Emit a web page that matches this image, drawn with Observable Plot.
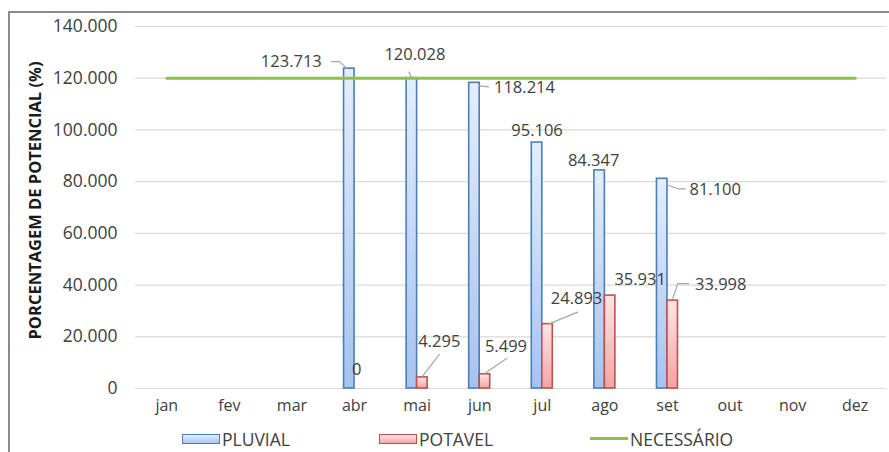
<!DOCTYPE html>
<html>
<head>
<meta charset="utf-8">
<script src="https://cdn.jsdelivr.net/npm/d3@7"></script>
<script src="https://cdn.jsdelivr.net/npm/@observablehq/plot@0.6"></script>
<style>
  html, body { margin: 0; padding: 0; background: #fff; overflow: hidden; }
  body { width: 889px; height: 452px; position: relative; font-family: "Open Sans", sans-serif; }
  #frame { position: absolute; left: 8px; top: 11px; width: 1000px; height: 600px;
           border-left: 2px solid #8a8a8a; border-top: 2px solid #8a8a8a; pointer-events: none; }
  #chart { position: absolute; left: 0; top: 0; }
  #legend { position: absolute; left: 0; top: 425px; width: 889px; height: 27px; color: #404040; font-size: 17.5px; }
  .item { position: absolute; top: 0; height: 27px; display: flex; align-items: center; }
  .swatch { width: 38px; height: 10px; margin-right: 2px; box-sizing: border-box; }
  .sw-blue { border: 1.5px solid #4a7ebb; background: linear-gradient(#e4eefc, #a9c5f0); }
  .sw-red { border: 1.5px solid #c0504d; background: linear-gradient(#fde6e6, #f4a5a5); }
  .sw-green { width: 38px; height: 2.5px; background: #8fbf4f; margin-right: 2px; }
</style>
</head>
<body>
<div id="chart"></div>
<div id="legend">
  <div class="item" style="left:182px"><div class="swatch sw-blue"></div>PLUVIAL</div>
  <div class="item" style="left:379px"><div class="swatch sw-red"></div>POTAVEL</div>
  <div class="item" style="left:590px"><div class="sw-green"></div>NECESSÁRIO</div>
</div>
<div id="frame"></div>
<script>
// Monthly potential percentages
const months = ["jan", "fev", "mar", "abr", "mai", "jun", "jul", "ago", "set", "out", "nov", "dez"];
const pluvial = [null, null, null, 123.713, 120.028, 118.214, 95.106, 84.347, 81.100, null, null, null];
const potavel = [null, null, null, 0, 4.295, 5.499, 24.893, 35.931, 33.998, null, null, null];
const necessario = [120, 120, 120, 120, 120, 120, 120, 120, 120, 120, 120, 120];
const yTicks = [0, 20, 40, 60, 80, 100, 120, 140];
const yTitle = "PORCENTAGEM DE POTENCIAL (%)";

// Label placement: pixel offset of each value label from the top of its bar
const pluvialLabelOffset = [null, null, null, [-58, -7], [3, -23], [50, 5], [0, -12], [-6, -10], [53, 11], null, null, null];
const potavelLabelOffset = [null, null, null, [-3, -19], [17, -36], [21, -28], [29, -25], [30, -16], [48, -16], null, null, null];
// Leader lines (pixel offsets from bar top)
const pluvialLeaders = [null, null, null, [[-2, 0], [-10, -7], [-18, -7]], [[0, 0], [-3, -6]], [[5, 3], [14, 4]], null, null, [[5, 6], [16, 10], [23, 10]], null, null, null];
const potavelLeaders = [null, null, null, null, [[0, -1], [17, -23]], [[0, -1], [22, -16]], [[1, 0], [30, -12]], null, [[0, -2], [5, -17], [16, -17]], null, null, null];

const W = 889, H = 425, mL = 135, mR = 3, mT = 26, mB = 37;
const xPx = (W - mL - mR) / 12;     // pixels per month
const yPx = (H - mT - mB) / 140;    // pixels per percentage point
const bw = 10.5 / xPx;              // bar width in month units

const fmt = v => v === 0 ? "0" : v.toFixed(3);

const series = [
  {key: "pluvial", values: pluvial, side: -1, fill: "url(#gradPluvial)", stroke: "#4a7ebb", offsets: pluvialLabelOffset, leaders: pluvialLeaders},
  {key: "potavel", values: potavel, side: 1, fill: "url(#gradPotavel)", stroke: "#c0504d", offsets: potavelLabelOffset, leaders: potavelLeaders}
];

const barCenter = (i, side) => i + side * bw / 2;

const bars = [], labels = [], leaderPts = [];
for (const s of series) {
  s.values.forEach((v, i) => {
    if (v == null) return;
    const cx = barCenter(i, s.side);
    if (v > 0) bars.push({key: s.key, x1: s.side < 0 ? i - bw : i, x2: s.side < 0 ? i : i + bw, v, fill: s.fill, stroke: s.stroke});
    const off = s.offsets[i];
    labels.push({x: cx + off[0] / xPx, y: v - off[1] / yPx, text: fmt(v)});
    const pts = s.leaders[i];
    if (pts) pts.forEach(([dx, dy]) => leaderPts.push({id: s.key + i, x: cx + dx / xPx, y: v - dy / yPx}));
  });
}

const needRows = necessario.map((v, i) => ({i, v}));
const monthRows = months.map((m, i) => ({i, m}));

const font = "'Open Sans', sans-serif";

const chart = Plot.plot({
  width: W, height: H,
  marginLeft: mL, marginRight: mR, marginTop: mT, marginBottom: mB,
  x: {domain: [-0.5, 11.5], axis: null},
  y: {domain: [0, 140], axis: null},
  style: {fontFamily: font, color: "#404040", background: "transparent"},
  marks: [
    Plot.ruleY(yTicks, {stroke: "#d9d9d9", strokeWidth: 1.2}),
    Plot.text(yTicks, {y: d => d, text: fmt, frameAnchor: "left", dx: -18, textAnchor: "end", fontSize: 17.5, fill: "#404040"}),
    Plot.text(monthRows, {x: "i", text: "m", frameAnchor: "bottom", dy: 22, fontSize: 16, fill: "#404040"}),
    Plot.text([yTitle], {text: d => d, frameAnchor: "left", textAnchor: "middle", rotate: -90, dx: -100, dy: -7, fontSize: 16.5, fontWeight: "bold", fill: "#1a1a1a"}),
    Plot.rectY(bars, {x1: "x1", x2: "x2", y1: 0, y2: "v", fill: d => d.fill, stroke: d => d.stroke, strokeWidth: 1.6}),
    Plot.lineY(needRows, {x: "i", y: "v", stroke: "#8fbf4f", strokeWidth: 3}),
    Plot.line(leaderPts, {x: "x", y: "y", z: "id", stroke: "#a6a6a6", strokeWidth: 1.2}),
    Plot.text(labels, {x: "x", y: "y", text: "text", fontSize: 16.5, fill: "#404040"})
  ]
});

// Gradients used by the bar fills
const ns = "http://www.w3.org/2000/svg";
const defs = document.createElementNS(ns, "defs");
function gradient(id, top, bottom) {
  const g = document.createElementNS(ns, "linearGradient");
  g.setAttribute("id", id);
  g.setAttribute("x1", "0"); g.setAttribute("y1", "0");
  g.setAttribute("x2", "0"); g.setAttribute("y2", "1");
  [[0, top], [1, bottom]].forEach(([o, c]) => {
    const st = document.createElementNS(ns, "stop");
    st.setAttribute("offset", o);
    st.setAttribute("stop-color", c);
    g.appendChild(st);
  });
  defs.appendChild(g);
}
gradient("gradPluvial", "#e4eefc", "#a6c3ef");
gradient("gradPotavel", "#fde6e6", "#f4a3a3");
chart.insertBefore(defs, chart.firstChild);

document.getElementById("chart").appendChild(chart);
</script>
</body>
</html>
